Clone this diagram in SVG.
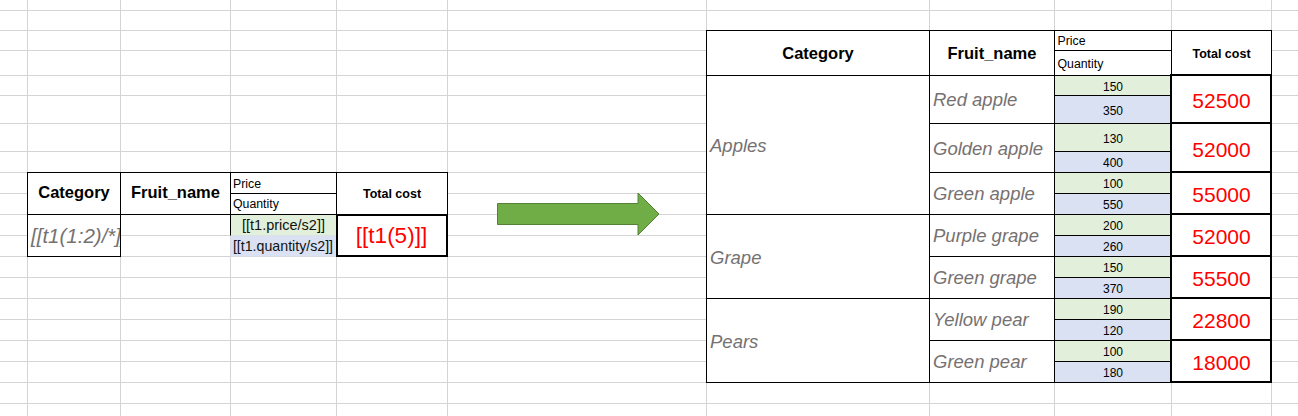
<svg xmlns="http://www.w3.org/2000/svg" width="1298" height="416" viewBox="0 0 1298 416">
<style>
text{font-family:"Liberation Sans",Arial,sans-serif}
.grid line{stroke:#d4d4d4;stroke-width:1}
.b{fill:none;stroke:#000;stroke-width:1}
.tk{fill:none;stroke:#000;stroke-width:2}
.hd{font-weight:bold;font-size:16.5px;fill:#000;text-anchor:middle}
.tc{font-weight:bold;font-size:12.5px;fill:#000;text-anchor:middle}
.pq{font-size:12.3px;fill:#000}
.num{font-size:12px;fill:#000;text-anchor:middle}
.it{font-style:italic;font-size:18.5px;fill:#767171}
.tot{font-size:21px;fill:#ff0000;text-anchor:middle}
.tpl{font-size:14.5px;fill:#111;text-anchor:middle}
.gr{fill:#e2efda}
.bl{fill:#d9e1f2}
.wh{fill:#fff}
</style>
<defs>
<clipPath id="clipCat"><rect x="27" y="214" width="93" height="42"/></clipPath>
<clipPath id="clipQty"><rect x="230" y="235" width="106" height="21"/></clipPath>
</defs>
<rect width="1298" height="416" fill="#fff"/>
<g id="grid" class="grid">
<line x1="0" y1="10.5" x2="1298" y2="10.5"/>
<line x1="0" y1="30.5" x2="1298" y2="30.5"/>
<line x1="0" y1="50.5" x2="1298" y2="50.5"/>
<line x1="0" y1="75.5" x2="1298" y2="75.5"/>
<line x1="0" y1="95.5" x2="1298" y2="95.5"/>
<line x1="0" y1="123.5" x2="1298" y2="123.5"/>
<line x1="0" y1="151.5" x2="1298" y2="151.5"/>
<line x1="0" y1="172.5" x2="1298" y2="172.5"/>
<line x1="0" y1="193.5" x2="1298" y2="193.5"/>
<line x1="0" y1="214.5" x2="1298" y2="214.5"/>
<line x1="0" y1="235.5" x2="1298" y2="235.5"/>
<line x1="0" y1="256.5" x2="1298" y2="256.5"/>
<line x1="0" y1="277.5" x2="1298" y2="277.5"/>
<line x1="0" y1="298.5" x2="1298" y2="298.5"/>
<line x1="0" y1="319.5" x2="1298" y2="319.5"/>
<line x1="0" y1="340.5" x2="1298" y2="340.5"/>
<line x1="0" y1="361.5" x2="1298" y2="361.5"/>
<line x1="0" y1="382.5" x2="1298" y2="382.5"/>
<line x1="0" y1="403.5" x2="1298" y2="403.5"/>
<line x1="27.5" y1="0" x2="27.5" y2="416"/>
<line x1="120.5" y1="0" x2="120.5" y2="416"/>
<line x1="230.5" y1="0" x2="230.5" y2="416"/>
<line x1="336.5" y1="0" x2="336.5" y2="416"/>
<line x1="447.5" y1="0" x2="447.5" y2="416"/>
<line x1="706.5" y1="0" x2="706.5" y2="416"/>
<line x1="929.5" y1="0" x2="929.5" y2="416"/>
<line x1="1054.5" y1="0" x2="1054.5" y2="416"/>
<line x1="1171.5" y1="0" x2="1171.5" y2="416"/>
<line x1="1271.5" y1="0" x2="1271.5" y2="416"/>
</g>

<g id="template-table">
<rect class="wh" x="27" y="172" width="420" height="42"/>
<rect class="wh" x="27" y="214" width="93" height="42"/>
<rect class="wh" x="336" y="214" width="111" height="42"/>
<rect class="gr" x="230.5" y="214.5" width="106" height="21"/>
<rect class="bl" x="230.5" y="235.5" width="106" height="21"/>
<rect class="b" x="27.5" y="172.5" width="420" height="42"/>
<line class="b" x1="120.5" y1="172.5" x2="120.5" y2="214.5"/>
<line class="b" x1="230.5" y1="172.5" x2="230.5" y2="214.5"/>
<line class="b" x1="336.5" y1="172.5" x2="336.5" y2="214.5"/>
<line class="b" x1="230.5" y1="193.5" x2="336.5" y2="193.5"/>
<rect class="b" x="27.5" y="214.5" width="93" height="42"/>
<line class="b" x1="230.5" y1="214.5" x2="230.5" y2="235.5"/>
<rect class="tk" x="337" y="215" width="110" height="41"/>
<text class="hd" x="74" y="198">Category</text>
<text class="hd" x="175.5" y="198">Fruit_name</text>
<text class="pq" x="233" y="188">Price</text>
<text class="pq" x="233" y="207.5">Quantity</text>
<text class="tc" x="392" y="197.5">Total cost</text>
<text class="it" x="31" y="243" style="font-size:20.5px" clip-path="url(#clipCat)">[[t1(1:2)/*]]</text>
<text class="tpl" x="283.5" y="229.5">[[t1.price/s2]]</text>
<text class="tpl" x="283" y="250.5" style="font-size:14.2px" clip-path="url(#clipQty)">[[t1.quantity/s2]]</text>
<text class="tot" x="391.5" y="243" style="font-size:22.5px">[[t1(5)]]</text>
</g>

<g id="connectors">
<polygon points="497.5,203.5 638,203.5 638,193 659,214 638,235 638,224.5 497.5,224.5" fill="#70ad47" stroke="#548235" stroke-width="1"/>
</g>

<g id="result-table">
<rect class="wh" x="706" y="30" width="565" height="352"/>
<g id="fills">
<rect class="gr" x="1054" y="75" width="117" height="20"/>
<rect class="bl" x="1054" y="95" width="117" height="28"/>
<rect class="gr" x="1054" y="123" width="117" height="28"/>
<rect class="bl" x="1054" y="151" width="117" height="21"/>
<rect class="gr" x="1054" y="172" width="117" height="21"/>
<rect class="bl" x="1054" y="193" width="117" height="21"/>
<rect class="gr" x="1054" y="214" width="117" height="21"/>
<rect class="bl" x="1054" y="235" width="117" height="21"/>
<rect class="gr" x="1054" y="256" width="117" height="21"/>
<rect class="bl" x="1054" y="277" width="117" height="21"/>
<rect class="gr" x="1054" y="298" width="117" height="21"/>
<rect class="bl" x="1054" y="319" width="117" height="21"/>
<rect class="gr" x="1054" y="340" width="117" height="21"/>
<rect class="bl" x="1054" y="361" width="117" height="21"/>
</g>
<g id="borders">
<rect class="b" x="706.5" y="30.5" width="565" height="352"/>
<line class="b" x1="706.5" y1="75.5" x2="1271.5" y2="75.5"/>
<line class="b" x1="929.5" y1="30.5" x2="929.5" y2="382.5"/>
<line class="b" x1="1054.5" y1="30.5" x2="1054.5" y2="382.5"/>
<line class="b" x1="1171.5" y1="30.5" x2="1171.5" y2="382.5"/>
<line class="b" x1="1054.5" y1="50.5" x2="1171.5" y2="50.5"/>
<line class="b" x1="706.5" y1="214.5" x2="1171.5" y2="214.5"/>
<line class="b" x1="706.5" y1="298.5" x2="1171.5" y2="298.5"/>
<line class="b" x1="929.5" y1="123.5" x2="1171.5" y2="123.5"/>
<line class="b" x1="929.5" y1="172.5" x2="1171.5" y2="172.5"/>
<line class="b" x1="929.5" y1="256.5" x2="1171.5" y2="256.5"/>
<line class="b" x1="929.5" y1="340.5" x2="1171.5" y2="340.5"/>
<line class="b" x1="1054.5" y1="95.5" x2="1171.5" y2="95.5"/>
<line class="b" x1="1054.5" y1="151.5" x2="1171.5" y2="151.5"/>
<line class="b" x1="1054.5" y1="193.5" x2="1171.5" y2="193.5"/>
<line class="b" x1="1054.5" y1="235.5" x2="1171.5" y2="235.5"/>
<line class="b" x1="1054.5" y1="277.5" x2="1171.5" y2="277.5"/>
<line class="b" x1="1054.5" y1="319.5" x2="1171.5" y2="319.5"/>
<line class="b" x1="1054.5" y1="361.5" x2="1171.5" y2="361.5"/>
<rect class="tk" x="1171" y="75" width="100" height="48"/>
<rect class="tk" x="1171" y="123" width="100" height="49"/>
<rect class="tk" x="1171" y="172" width="100" height="42"/>
<rect class="tk" x="1171" y="214" width="100" height="42"/>
<rect class="tk" x="1171" y="256" width="100" height="42"/>
<rect class="tk" x="1171" y="298" width="100" height="42"/>
<rect class="tk" x="1171" y="340" width="100" height="42"/>
</g>
<g id="header">
<text class="hd" x="818" y="58.5">Category</text>
<text class="hd" x="992" y="58.5">Fruit_name</text>
<text class="pq" x="1057.5" y="44.5">Price</text>
<text class="pq" x="1057.5" y="68">Quantity</text>
<text class="tc" x="1221.5" y="57.5">Total cost</text>
</g>
<g id="categories">
<text class="it" x="710" y="152">Apples</text>
<text class="it" x="710" y="263.5">Grape</text>
<text class="it" x="710" y="347.5">Pears</text>
</g>
<g id="fruits">
<text class="it" x="933" y="106">Red apple</text>
<text class="it" x="933" y="154.5">Golden apple</text>
<text class="it" x="933" y="200">Green apple</text>
<text class="it" x="933" y="242">Purple grape</text>
<text class="it" x="933" y="284">Green grape</text>
<text class="it" x="933" y="326">Yellow pear</text>
<text class="it" x="933" y="368">Green pear</text>
</g>
<g id="values">
<text class="num" x="1113" y="90.5">150</text>
<text class="num" x="1113" y="114.5">350</text>
<text class="num" x="1113" y="142.5">130</text>
<text class="num" x="1113" y="167">400</text>
<text class="num" x="1113" y="188">100</text>
<text class="num" x="1113" y="209">550</text>
<text class="num" x="1113" y="230">200</text>
<text class="num" x="1113" y="251">260</text>
<text class="num" x="1113" y="272">150</text>
<text class="num" x="1113" y="293">370</text>
<text class="num" x="1113" y="314">190</text>
<text class="num" x="1113" y="335">120</text>
<text class="num" x="1113" y="356">100</text>
<text class="num" x="1113" y="377">180</text>
</g>
<g id="totals">
<text class="tot" x="1221.5" y="108">52500</text>
<text class="tot" x="1221.5" y="156.5">52000</text>
<text class="tot" x="1221.5" y="202">55000</text>
<text class="tot" x="1221.5" y="244">52000</text>
<text class="tot" x="1221.5" y="286">55500</text>
<text class="tot" x="1221.5" y="328">22800</text>
<text class="tot" x="1221.5" y="370">18000</text>
</g>
</g>
</svg>
